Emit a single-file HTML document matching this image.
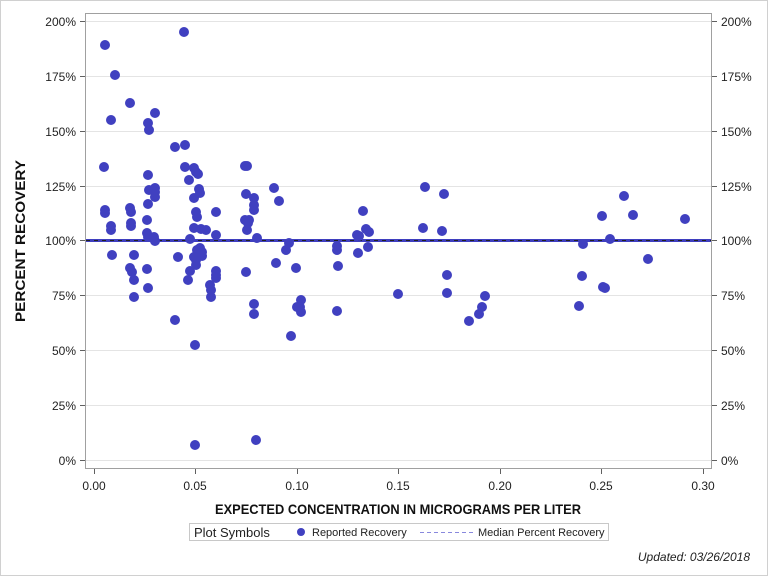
<!DOCTYPE html>
<html><head><meta charset="utf-8"><style>
body{margin:0;background:#fff;}
svg{display:block;font-family:"Liberation Sans Narrow","Liberation Sans",sans-serif;}
</style></head><body>
<svg width="768" height="576" xmlns="http://www.w3.org/2000/svg">
<rect x="0.5" y="0.5" width="767" height="575" fill="#fff" stroke="#d0d0d0"/>
<g stroke="#e4e4e4" stroke-width="1">
<line x1="85" x2="712" y1="21.5" y2="21.5"/><line x1="85" x2="712" y1="76.5" y2="76.5"/>
<line x1="85" x2="712" y1="131.5" y2="131.5"/><line x1="85" x2="712" y1="186.5" y2="186.5"/>
<line x1="85" x2="712" y1="295.5" y2="295.5"/><line x1="85" x2="712" y1="350.5" y2="350.5"/>
<line x1="85" x2="712" y1="405.5" y2="405.5"/><line x1="85" x2="712" y1="460.5" y2="460.5"/>
</g>
<rect x="85.5" y="13.5" width="626" height="455" fill="none" stroke="#a0a0a0"/>
<g stroke="#606060">
<line x1="80" x2="85" y1="21.5" y2="21.5"/><line x1="80" x2="85" y1="76.5" y2="76.5"/><line x1="80" x2="85" y1="131.5" y2="131.5"/><line x1="80" x2="85" y1="186.5" y2="186.5"/><line x1="80" x2="85" y1="240.5" y2="240.5"/><line x1="80" x2="85" y1="295.5" y2="295.5"/><line x1="80" x2="85" y1="350.5" y2="350.5"/><line x1="80" x2="85" y1="405.5" y2="405.5"/><line x1="80" x2="85" y1="460.5" y2="460.5"/>
<line x1="712" x2="717" y1="21.5" y2="21.5"/><line x1="712" x2="717" y1="76.5" y2="76.5"/><line x1="712" x2="717" y1="131.5" y2="131.5"/><line x1="712" x2="717" y1="186.5" y2="186.5"/><line x1="712" x2="717" y1="240.5" y2="240.5"/><line x1="712" x2="717" y1="295.5" y2="295.5"/><line x1="712" x2="717" y1="350.5" y2="350.5"/><line x1="712" x2="717" y1="405.5" y2="405.5"/><line x1="712" x2="717" y1="460.5" y2="460.5"/>
<line y1="469" y2="474" x1="94.5" x2="94.5"/><line y1="469" y2="474" x1="195.5" x2="195.5"/><line y1="469" y2="474" x1="297.5" x2="297.5"/><line y1="469" y2="474" x1="398.5" x2="398.5"/><line y1="469" y2="474" x1="500.5" x2="500.5"/><line y1="469" y2="474" x1="601.5" x2="601.5"/><line y1="469" y2="474" x1="703.5" x2="703.5"/>
</g>
<g font-size="12" fill="#222" text-anchor="end">
<text x="76" y="26">200%</text><text x="76" y="81">175%</text><text x="76" y="136">150%</text><text x="76" y="191">125%</text><text x="76" y="245">100%</text><text x="76" y="300">75%</text><text x="76" y="355">50%</text><text x="76" y="410">25%</text><text x="76" y="465">0%</text>
</g>
<g font-size="12" fill="#222" text-anchor="start">
<text x="721" y="26">200%</text><text x="721" y="81">175%</text><text x="721" y="136">150%</text><text x="721" y="191">125%</text><text x="721" y="245">100%</text><text x="721" y="300">75%</text><text x="721" y="355">50%</text><text x="721" y="410">25%</text><text x="721" y="465">0%</text>
</g>
<g font-size="12" fill="#222" text-anchor="middle">
<text x="94" y="490">0.00</text><text x="195" y="490">0.05</text><text x="297" y="490">0.10</text><text x="398" y="490">0.15</text><text x="500" y="490">0.20</text><text x="601" y="490">0.25</text><text x="703" y="490">0.30</text>
</g>
<text x="215" y="514" font-size="14" font-weight="bold" fill="#111" textLength="366" lengthAdjust="spacingAndGlyphs">EXPECTED CONCENTRATION IN MICROGRAMS PER LITER</text>
<text transform="translate(25,322) rotate(-90)" font-size="14" font-weight="bold" fill="#111" textLength="162" lengthAdjust="spacingAndGlyphs">PERCENT RECOVERY</text>
<line x1="86" x2="711" y1="240.5" y2="240.5" stroke="#3f3fbf" stroke-width="3"/>
<line x1="86" x2="711" y1="240.5" y2="240.5" stroke="#222" stroke-width="1" stroke-dasharray="4,4"/>
<g fill="#4040c0">
<circle cx="105" cy="45" r="5"/><circle cx="115" cy="75" r="5"/><circle cx="111" cy="120" r="5"/><circle cx="104" cy="167" r="5"/><circle cx="105" cy="210" r="5"/><circle cx="105" cy="213" r="5"/><circle cx="111" cy="226" r="5"/><circle cx="111" cy="230" r="5"/><circle cx="112" cy="255" r="5"/>
<circle cx="130" cy="103" r="5"/><circle cx="130" cy="208" r="5"/><circle cx="131" cy="212" r="5"/><circle cx="131" cy="223" r="5"/><circle cx="131" cy="226" r="5"/><circle cx="130" cy="268" r="5"/><circle cx="132" cy="272" r="5"/><circle cx="134" cy="280" r="5"/><circle cx="134" cy="255" r="5"/><circle cx="134" cy="297" r="5"/>
<circle cx="148" cy="175" r="5"/><circle cx="148" cy="204" r="5"/><circle cx="147" cy="220" r="5"/><circle cx="147" cy="233" r="5"/><circle cx="147" cy="269" r="5"/><circle cx="148" cy="288" r="5"/><circle cx="149" cy="190" r="5"/><circle cx="149" cy="130" r="5"/><circle cx="148" cy="123" r="5"/><circle cx="148" cy="237" r="5"/>
<circle cx="155" cy="113" r="5"/><circle cx="155" cy="188" r="5"/><circle cx="155" cy="192" r="5"/><circle cx="155" cy="197" r="5"/><circle cx="154" cy="237" r="5"/><circle cx="155" cy="241" r="5"/>
<circle cx="175" cy="147" r="5"/><circle cx="175" cy="320" r="5"/><circle cx="178" cy="257" r="5"/><circle cx="184" cy="32" r="5"/><circle cx="185" cy="145" r="5"/><circle cx="185" cy="167" r="5"/><circle cx="189" cy="180" r="5"/><circle cx="190" cy="239" r="5"/><circle cx="190" cy="271" r="5"/><circle cx="188" cy="280" r="5"/>
<circle cx="194" cy="168" r="5"/><circle cx="196" cy="172" r="5"/><circle cx="194" cy="198" r="5"/><circle cx="194" cy="228" r="5"/><circle cx="194" cy="257" r="5"/><circle cx="196" cy="260" r="5"/><circle cx="196" cy="265" r="5"/><circle cx="196" cy="212" r="5"/><circle cx="197" cy="217" r="5"/><circle cx="197" cy="250" r="5"/><circle cx="198" cy="174" r="5"/><circle cx="199" cy="189" r="5"/><circle cx="200" cy="193" r="5"/><circle cx="201" cy="229" r="5"/><circle cx="200" cy="248" r="5"/><circle cx="202" cy="252" r="5"/><circle cx="202" cy="256" r="5"/><circle cx="195" cy="345" r="5"/><circle cx="195" cy="445" r="5"/>
<circle cx="206" cy="230" r="5"/><circle cx="210" cy="285" r="5"/><circle cx="211" cy="290" r="5"/><circle cx="211" cy="297" r="5"/><circle cx="216" cy="212" r="5"/><circle cx="216" cy="235" r="5"/><circle cx="216" cy="271" r="5"/><circle cx="216" cy="275" r="5"/><circle cx="216" cy="278" r="5"/>
<circle cx="245" cy="166" r="5"/><circle cx="247" cy="166" r="5"/><circle cx="246" cy="194" r="5"/><circle cx="245" cy="220" r="5"/><circle cx="249" cy="220" r="5"/><circle cx="248" cy="223" r="5"/><circle cx="247" cy="230" r="5"/><circle cx="246" cy="272" r="5"/>
<circle cx="254" cy="198" r="5"/><circle cx="254" cy="205" r="5"/><circle cx="254" cy="210" r="5"/><circle cx="254" cy="304" r="5"/><circle cx="254" cy="314" r="5"/><circle cx="257" cy="238" r="5"/><circle cx="256" cy="440" r="5"/>
<circle cx="274" cy="188" r="5"/><circle cx="276" cy="263" r="5"/><circle cx="279" cy="201" r="5"/><circle cx="286" cy="250" r="5"/><circle cx="289" cy="243" r="5"/><circle cx="291" cy="336" r="5"/><circle cx="296" cy="268" r="5"/><circle cx="297" cy="307" r="5"/><circle cx="301" cy="312" r="5"/><circle cx="300" cy="307" r="5"/><circle cx="301" cy="300" r="5"/>
<circle cx="337" cy="250" r="5"/><circle cx="337" cy="246" r="5"/><circle cx="338" cy="266" r="5"/><circle cx="337" cy="311" r="5"/><circle cx="357" cy="235" r="5"/><circle cx="359" cy="236" r="5"/><circle cx="358" cy="253" r="5"/><circle cx="363" cy="211" r="5"/><circle cx="366" cy="229" r="5"/><circle cx="369" cy="232" r="5"/><circle cx="368" cy="247" r="5"/>
<circle cx="398" cy="294" r="5"/><circle cx="423" cy="228" r="5"/><circle cx="425" cy="187" r="5"/><circle cx="442" cy="231" r="5"/><circle cx="444" cy="194" r="5"/><circle cx="447" cy="275" r="5"/><circle cx="447" cy="293" r="5"/><circle cx="469" cy="321" r="5"/><circle cx="479" cy="314" r="5"/><circle cx="482" cy="307" r="5"/><circle cx="485" cy="296" r="5"/>
<circle cx="579" cy="306" r="5"/><circle cx="583" cy="244" r="5"/><circle cx="582" cy="276" r="5"/><circle cx="602" cy="216" r="5"/><circle cx="605" cy="288" r="5"/><circle cx="603" cy="287" r="5"/><circle cx="610" cy="239" r="5"/><circle cx="624" cy="196" r="5"/><circle cx="633" cy="215" r="5"/><circle cx="648" cy="259" r="5"/><circle cx="685" cy="219" r="5"/>
</g>
<rect x="189.5" y="523.5" width="419" height="17" fill="#fff" stroke="#c8c8c8"/>
<text x="194" y="537" font-size="13" fill="#222">Plot Symbols</text>
<circle cx="301" cy="532" r="4" fill="#4040c0"/>
<text x="312" y="536" font-size="11" fill="#222">Reported Recovery</text>
<line x1="420" x2="473" y1="532.5" y2="532.5" stroke="#8888dd" stroke-dasharray="4,3"/>
<text x="478" y="536" font-size="11" fill="#222">Median Percent Recovery</text>
<text x="750" y="561" font-size="12" font-style="italic" text-anchor="end" fill="#222">Updated: 03/26/2018</text>
</svg>
</body></html>
